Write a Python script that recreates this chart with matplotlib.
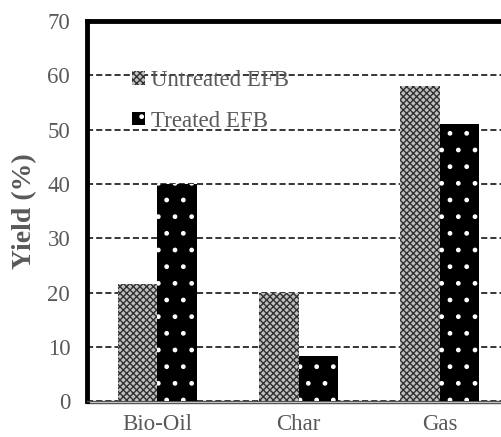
import matplotlib.pyplot as plt
import numpy as np

categories = ["Bio-Oil", "Char", "Gas"]
untreated = [21.6, 20.0, 58.0]
treated = [40.0, 8.3, 51.0]

plt.rcParams['font.family'] = ['Liberation Serif', 'DejaVu Serif']
plt.rcParams['hatch.linewidth'] = 1.0

fig = plt.figure(figsize=(5.02, 4.37), dpi=100)
ax = fig.add_axes([0.173, 0.082, 0.827, 0.870])

x = np.arange(len(categories))
w = 0.28
ax.bar(x - w / 2, untreated, w, color='#c0c0c0', edgecolor='#303030',
       hatch='xxxxx', linewidth=0, label='Untreated EFB', zorder=3)
ax.bar(x + w / 2, treated, w, color='black', edgecolor='white',
       hatch='.', linewidth=0, label='Treated EFB', zorder=3)

ax.set_ylim(0, 70)
ax.set_yticks(range(0, 71, 10))
ax.set_xlim(-0.5, 2.44)
ax.set_xticks(x)
ax.set_xticklabels(categories)
ax.tick_params(length=0, labelsize=16.5, labelcolor='#595959', pad=9)
ax.tick_params(axis='y', pad=12)

ax.yaxis.grid(True, color='black', linestyle=(0, (4, 2)), linewidth=1.1)
ax.set_axisbelow(True)

ax.spines['left'].set_linewidth(3.5)
ax.spines['top'].set_linewidth(3.5)
ax.spines['right'].set_visible(False)
ax.spines['bottom'].set_linewidth(1)
ax.spines['bottom'].set_color('#555555')
ax.plot([0, 1], [-0.006, -0.006], transform=ax.transAxes, color='#555555',
        linewidth=1, clip_on=False)

ax.set_ylabel("Yield (%)", fontsize=20, fontweight='bold', color='#595959', labelpad=7)

leg = ax.legend(loc='upper left', bbox_to_anchor=(0.06, 0.925), frameon=False,
                fontsize=16.5, labelspacing=0.85, handlelength=0.55, handleheight=0.55,
                handletextpad=0.25)
for t in leg.get_texts():
    t.set_color('#595959')

fig.savefig("out.png", dpi=100)
